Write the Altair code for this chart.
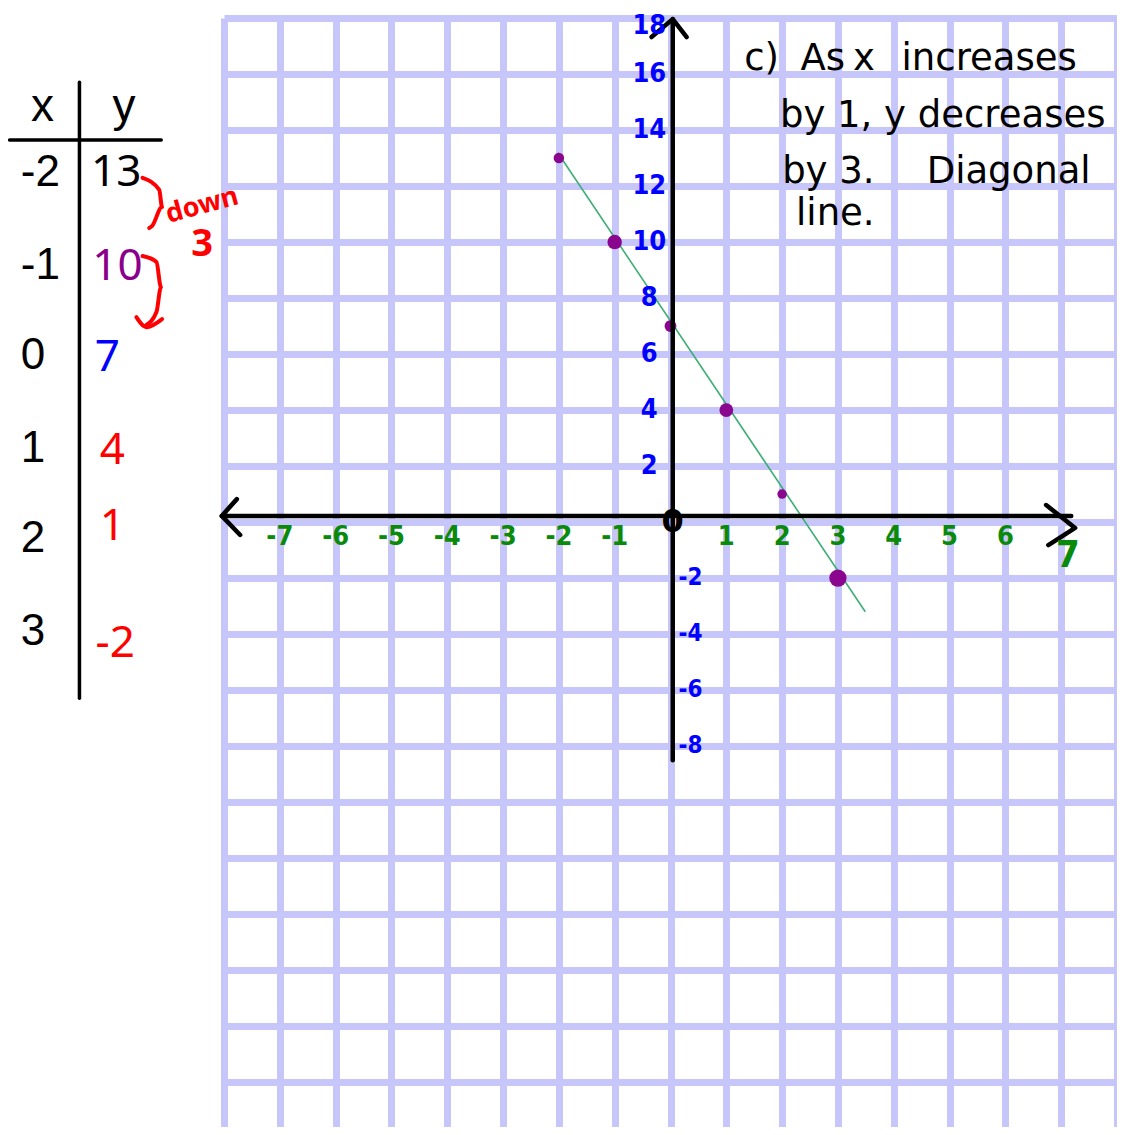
import altair as alt
import pandas as pd

# ---- table / plotted data ----
x_vals = [-2, -1, 0, 1, 2, 3]
y_vals = [13, 10, 7, 4, 1, -2]
y_val_colors = ["#000000", "#8B008B", "#0000FF", "#FF0000", "#FF0000", "#FF0000"]
point_sizes = [110, 210, 140, 190, 90, 300]

# hand-drawn green line end points
line_x = [-2.02, 3.49]
line_y = [13.19, -3.2]

# axis tick labels (hand-written)
x_tick_labels = [-7, -6, -5, -4, -3, -2, -1, 1, 2, 3, 4, 5, 6]
y_tick_pos = [2, 4, 6, 8, 10, 12, 14, 16, 18]
y_tick_neg = [-2, -4, -6, -8]

# note text pieces
note_words = ["c)", "As", "x", "increases", "by 1, y decreases", "by 3.", "Diagonal", "line."]
note_x = [1.32, 2.33, 3.27, 4.14, 1.96, 2.0, 4.59, 2.25]
note_y = [16.14, 16.14, 16.14, 16.14, 14.11, 12.11, 12.11, 10.6]

# table layout (data units)
tab_x_col = -11.64
tab_y_col = [-9.93, -9.91, -10.09, -10.0, -10.0, -9.95]
tab_x_base = [12.0, 8.68, 5.46, 2.14, -1.07, -4.39]
tab_y_base = [12.0, 8.64, 5.39, 2.07, -0.64, -4.82]

GRID = "#C6C6FA"
XS = alt.Scale(domain=[-8, 8], nice=False, zero=False)
YS = alt.Scale(domain=[-21.6, 18], nice=False, zero=False)
XAX = alt.Axis(values=list(range(-8, 9)), grid=True, gridColor=GRID, gridWidth=7,
               gridOpacity=1, labels=False, ticks=False, domain=False)
YAX = alt.Axis(values=list(range(-20, 19, 2)), grid=True, gridColor=GRID, gridWidth=7,
               gridOpacity=1, labels=False, ticks=False, domain=False)


def X(f="x"):
    return alt.X(f"{f}:Q", scale=XS, axis=XAX, title=None)


def Y(f="y"):
    return alt.Y(f"{f}:Q", scale=YS, axis=YAX, title=None)


# grid base (invisible point so axes/grids draw)
base = alt.Chart(pd.DataFrame({"x": [0], "y": [0]})).mark_point(opacity=0).encode(x=X(), y=Y())

# straight black lines: axes and table lines
rules_df = pd.DataFrame({
    "x":  [-8.04, 0.04, -11.84, -10.59],
    "x2": [7.18, 0.04, -9.125, -10.59],
    "y":  [0.22, 17.96, 13.64, 15.71],
    "y2": [0.22, -8.5, 13.64, -6.29],
    "w":  [4.5, 4.5, 3.5, 3.5],
})
rules = alt.Chart(rules_df).mark_rule(color="black", strokeCap="round").encode(
    x=X(), x2=alt.X2("x2:Q"), y=Y(), y2=alt.Y2("y2:Q"),
    strokeWidth=alt.StrokeWidth("w:Q", scale=None))

# arrow heads
arrow_df = pd.DataFrame({
    "g": ["L"] * 3 + ["R"] * 3 + ["T"] * 3,
    "o": [0, 1, 2] * 3,
    "x": [-7.77, -8.04, -7.71, 6.73, 7.25, 6.77, -0.34, 0.04, 0.29],
    "y": [0.82, 0.22, -0.46, 0.61, -0.21, -0.82, 17.32, 17.96, 17.32],
})
arrows = alt.Chart(arrow_df).mark_line(color="black", strokeWidth=4.5, strokeCap="round",
                                       strokeJoin="round").encode(
    x=X(), y=Y(), detail="g:N", order="o:Q")

# green line
gline = alt.Chart(pd.DataFrame({"x": line_x, "y": line_y})).mark_line(
    color="#3DAE74", strokeWidth=1.6).encode(x=X(), y=Y())

# points
pts = alt.Chart(pd.DataFrame({"x": x_vals, "y": y_vals, "s": point_sizes})).mark_point(
    filled=True, opacity=1, color="#8B068E", shape="circle").encode(
    x=X(), y=Y(), size=alt.Size("s:Q", scale=None))

# red brackets in the table
br_df = pd.DataFrame({
    "g": ["a"] * 5 + ["b"] * 5 + ["c"] * 3,
    "o": list(range(5)) + list(range(5)) + list(range(3)),
    "x": [-9.46, -9.16, -9.11, -9.29, -9.34,
          -9.46, -9.21, -9.13, -9.21, -9.39,
          -9.57, -9.39, -9.11],
    "y": [12.29, 11.86, 11.25, 10.57, 10.5,
          9.5, 9.29, 8.39, 7.5, 7.04,
          7.32, 6.96, 7.25],
})
brackets = alt.Chart(br_df).mark_line(color="#FF0000", strokeWidth=4, interpolate="monotone",
                                      strokeCap="round", strokeJoin="round").encode(
    x=X(), y=Y(), detail="g:N", order="o:Q")

down_txt = alt.Chart(pd.DataFrame({"x": [-8.39], "y": [11.3], "t": ["down"]})).mark_text(
    font="Noto Sans", fontSize=27, color="#FF0000", angle=345, fontWeight="bold").encode(
    x=X(), y=Y(), text="t:N")
three_txt = alt.Chart(pd.DataFrame({"x": [-8.39], "y": [9.89], "t": ["3"]})).mark_text(
    font="Noto Sans", fontSize=38, color="#FF0000", fontWeight="bold").encode(
    x=X(), y=Y(), text="t:N")

# table header and x column
hdr = alt.Chart(pd.DataFrame({"x": [-11.25, -9.79], "y": [14.32, 14.32], "t": ["x", "y"]})).mark_text(
    font="Liberation Sans", fontSize=46, color="black", baseline="alphabetic").encode(
    x=X(), y=Y(), text="t:N")
tab_x = alt.Chart(pd.DataFrame({"x": [tab_x_col] * 6, "y": tab_x_base,
                                "t": [str(v) for v in x_vals]})).mark_text(
    font="Liberation Sans", fontSize=44, color="black", baseline="alphabetic", align="left").encode(
    x=X(), y=Y(), text="t:N")
tab_y = alt.Chart(pd.DataFrame({"x": tab_y_col, "y": tab_y_base,
                                "t": [str(v) for v in y_vals], "c": y_val_colors})).mark_text(
    font="Noto Sans", fontSize=44, baseline="alphabetic").encode(
    x=X(), y=Y(), text="t:N", color=alt.Color("c:N", scale=None))

# hand-written axis labels
NARROW = "Liberation Sans Narrow, DejaVu Sans Condensed, sans-serif"
xlab = alt.Chart(pd.DataFrame({"x": x_tick_labels, "y": [-0.52] * len(x_tick_labels),
                               "t": [str(v) for v in x_tick_labels]})).mark_text(
    font=NARROW, fontSize=27, fontWeight="bold", color="#0A8A0A").encode(
    x=X(), y=Y(), text="t:N")
x7 = alt.Chart(pd.DataFrame({"x": [7.12], "y": [-1.21], "t": ["7"]})).mark_text(
    font=NARROW, fontSize=38, fontWeight="bold", color="#0A8A0A").encode(
    x=X(), y=Y(), text="t:N")
origin = alt.Chart(pd.DataFrame({"x": [0.04], "y": [0.0], "t": ["0"]})).mark_text(
    font="DejaVu Sans", fontSize=32, fontWeight="bold", color="black").encode(
    x=X(), y=Y(), text="t:N")
ylab_pos = alt.Chart(pd.DataFrame({"x": [-0.38] * len(y_tick_pos),
                                   "y": [v if v < 18 else 17.72 for v in y_tick_pos],
                                   "t": [str(v) for v in y_tick_pos]})).mark_text(
    font=NARROW, fontSize=27, fontWeight="bold", color="#0000FF").encode(
    x=X(), y=Y(), text="t:N")
ylab_neg = alt.Chart(pd.DataFrame({"x": [0.36] * len(y_tick_neg), "y": y_tick_neg,
                                   "t": [str(v) for v in y_tick_neg]})).mark_text(
    font=NARROW, fontSize=24, fontWeight="bold", color="#0000FF").encode(
    x=X(), y=Y(), text="t:N")

# note
note = alt.Chart(pd.DataFrame({"x": note_x, "y": note_y, "t": note_words})).mark_text(
    font="DejaVu Sans", fontSize=37, color="black", align="left", baseline="alphabetic").encode(
    x=X(), y=Y(), text="t:N")

chart = alt.layer(base, gline, pts, rules, arrows, brackets, down_txt, three_txt, hdr, tab_x,
                  tab_y, xlab, x7, origin, ylab_pos, ylab_neg, note).properties(
    width=893, height=1109,
    autosize=alt.AutoSizeParams(type="none"),
    padding={"left": 216, "top": 10, "right": 0, "bottom": 0},
    background="white",
).configure_view(stroke=None)

chart.save("out.html", embed_options={"renderer": "svg", "actions": False})
